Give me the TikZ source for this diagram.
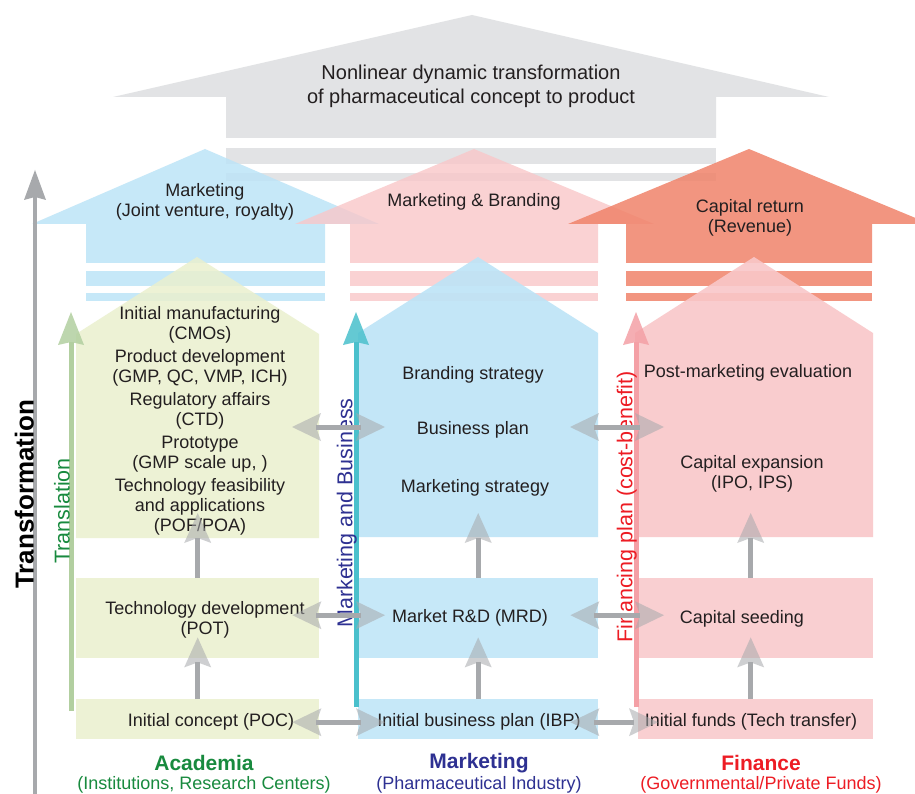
\documentclass[tikz,border=0pt]{standalone}
\usepackage{fontspec}
\setmainfont{Liberation Sans}
\usetikzlibrary{arrows.meta}

\definecolor{topgrey}{RGB}{226,227,229}
\definecolor{skyblue}{RGB}{189,228,247}
\definecolor{rosepink}{RGB}{249,199,201}
\definecolor{salmon}{RGB}{240,131,106}
\definecolor{palegreen}{RGB}{234,240,206}
\definecolor{arrgrey}{RGB}{167,169,172}
\definecolor{transgreen}{RGB}{178,207,160}
\definecolor{tealline}{RGB}{74,192,204}
\definecolor{finpink}{RGB}{244,160,166}
\definecolor{acadgreen}{RGB}{24,138,62}
\definecolor{mktnavy}{RGB}{46,49,146}
\definecolor{finred}{RGB}{237,28,36}
\definecolor{txt}{RGB}{35,31,32}

\tikzset{
  bigtip/.tip={Stealth[length=29pt,width=28pt,inset=5pt,line width=0pt]},
  uptip/.tip={Stealth[length=30pt,width=27pt,inset=5pt,line width=0pt]},
  coltip/.tip={Stealth[length=33pt,width=26pt,inset=3pt,line width=0pt]},
  axtip/.tip={Stealth[length=30pt,width=22pt,inset=3pt,line width=0pt]},
  body/.style={font=\fontsize{18}{20}\selectfont, text=txt, align=center, inner sep=0pt},
  head/.style={font=\fontsize{21}{24}\selectfont\bfseries, text=#1, inner sep=0pt},
  sub/.style={font=\fontsize{18}{20}\selectfont, text=#1, inner sep=0pt},
  side/.style={font=\fontsize{21.5}{24}\selectfont, text=#1, rotate=90, anchor=south, inner sep=1pt},
  rowbox/.style={fill=#1, fill opacity=0.85, draw=none, anchor=north west, inner sep=0pt},
  link/.style={draw=arrgrey, line width=5pt, fill opacity=0.55, arrows={bigtip-bigtip}},
  uplink/.style={draw=arrgrey, line width=5pt, fill opacity=0.55, arrows={-uptip}},
  colarrow/.style={draw=#1, line width=5pt, fill opacity=0.85, arrows={-coltip}}
}

\begin{document}
\begin{tikzpicture}[x=1pt,y=-1pt]
    \useasboundingbox (0,0) rectangle (915,794);
    \fill[white] (0,0) rectangle (915,794);

    \fill[topgrey] (226,138) -- (226,97) -- (113,97) -- (472,15) -- (829,97) -- (716,97) -- (716,138) -- cycle;
    \fill[topgrey] (226,148) rectangle (716,164);
    \fill[topgrey] (226,173) rectangle (716,181);
        \node[body, font=\fontsize{20}{24}\selectfont] (goal) at (471,86) {Nonlinear dynamic transformation\\of pharmaceutical concept to product};

    \fill[skyblue, fill opacity=0.85] (86,263) -- (86,224) -- (32,224) -- (205,149) -- (379,224) -- (325,224) -- (325,263) -- cycle;
    \fill[skyblue, fill opacity=0.85] (86,271) rectangle (325,286);
    \fill[skyblue, fill opacity=0.85] (86,293) rectangle (325,301);
    \fill[rosepink, fill opacity=0.8] (350,263) -- (350,224) -- (295,224) -- (474,149) -- (654,224) -- (598,224) -- (598,263) -- cycle;
    \fill[rosepink, fill opacity=0.8] (350,271) rectangle (598,286);
    \fill[rosepink, fill opacity=0.8] (350,293) rectangle (598,301);
    \fill[salmon, fill opacity=0.85] (626,263) -- (626,224) -- (568,224) -- (749,149) -- (930,224) -- (872,224) -- (872,263) -- cycle;
    \fill[salmon, fill opacity=0.85] (626,271) rectangle (872,286);
    \fill[salmon, fill opacity=0.85] (626,293) rectangle (872,301);
        \node[body] (jv) at (205,202) {Marketing\\(Joint venture, royalty)};
        \node[body] (brand) at (474,202) {Marketing \& Branding};
        \node[body] (capret) at (750,218) {Capital return\\(Revenue)};

    \fill[palegreen, fill opacity=0.85] (76,538) -- (76,334) -- (197,257) -- (319,334) -- (319,538) -- cycle;
    \fill[skyblue, fill opacity=0.9] (358,537) -- (358,333) -- (478,257) -- (598,333) -- (598,537) -- cycle;
    \fill[rosepink, fill opacity=0.9] (635,537) -- (635,333) -- (754,257) -- (873,333) -- (873,537) -- cycle;
    \coordinate (acadR) at (319,427);
    \coordinate (mktL) at (358,427);
    \coordinate (mktR) at (598,427);
    \coordinate (finL) at (635,427);

    \node[rowbox=palegreen, minimum width=243pt, minimum height=80pt] (potbox) at (76,578) {};
    \node[rowbox=skyblue, minimum width=240pt, minimum height=80pt] (mrdbox) at (358,578) {};
    \node[rowbox=rosepink, minimum width=235pt, minimum height=80pt] (seedbox) at (638,578) {};
    \node[rowbox=palegreen, minimum width=243pt, minimum height=40pt] (pocbox) at (76,699) {};
    \node[rowbox=skyblue, minimum width=240pt, minimum height=40pt] (ibpbox) at (358,699) {};
    \node[rowbox=rosepink, minimum width=235pt, minimum height=40pt] (fundbox) at (638,699) {};

    \coordinate (axbot) at (35,794);
    \coordinate (axtop) at (35,170);
    \draw[arrgrey, line width=4pt, arrows={-axtip}] (axbot) -- (axtop);
        \node[side=black, font=\fontsize{26}{28}\selectfont\bfseries, inner sep=0pt] (transf) at (34,494) {Transformation};

    \coordinate (trbot) at (71,711);
    \coordinate (trtop) at (71,312);
    \coordinate (mbbot) at (356,707);
    \coordinate (mbtop) at (356,312);
    \coordinate (fpbot) at (636,707);
    \coordinate (fptop) at (636,312);
    \draw[colarrow=transgreen] (trbot) -- (trtop);
    \draw[colarrow=tealline] (mbbot) -- (mbtop);
    \draw[colarrow=finpink] (fpbot) -- (fptop);
        \node[side=acadgreen] (transl) at (71,511) {Translation};
        \node[side=mktnavy] (mktbus) at (358,513) {Marketing and Business};
        \node[side=finred] (finplan) at (638,507) {Financing plan (cost-benefit)};

        \node[body] (acadtop) at (200,421) {Initial manufacturing\\(CMOs)\\[3pt]
            Product development\\(GMP, QC, VMP, ICH)\\[3pt]
            Regulatory affairs\\(CTD)\\[3pt]
            Prototype\\(GMP scale up, )\\[3pt]
            Technology feasibility\\and applications\\(POF/POA)};
        \node[body] (brandst) at (473,375) {Branding strategy};
        \node[body] (bizplan) at (473,430) {Business plan};
        \node[body] (mktst) at (475,488) {Marketing strategy};
        \node[body] (postm) at (748,373) {Post-marketing evaluation};
        \node[body] (capexp) at (752,474) {Capital expansion\\(IPO, IPS)};

        \node[body] (pot) at (205,620) {Technology development\\(POT)};
        \node[body] (mrd) at (470,618) {Market R\&D (MRD)};
        \node[body] (seed) at (742,619) {Capital seeding};
        \node[body] (poc) at (211,722) {Initial concept (POC)};
        \node[body] (ibp) at (479,722) {Initial business plan (IBP)};
        \node[body] (funds) at (751,722) {Initial funds (Tech transfer)};

    \draw[uplink] (pocbox.north) -- ([yshift=21pt]potbox.south);
    \draw[uplink] (ibpbox.north) -- ([yshift=21pt]mrdbox.south);
    \draw[uplink] ([xshift=-5pt]fundbox.north) -- ([xshift=-5pt,yshift=21pt]seedbox.south);
    \draw[uplink] (potbox.north) -- ++(0,-65);
    \draw[uplink] (mrdbox.north) -- ++(0,-65);
    \draw[uplink] ([xshift=-5pt]seedbox.north) -- ++(0,-65);

    \draw[link] ([xshift=-27pt]acadR) -- ([xshift=27pt]mktL);
    \draw[link] ([xshift=-28pt]mktR) -- ([xshift=29pt]finL);
    \draw[link] ([xshift=-27pt,yshift=3pt]potbox.east) -- ([xshift=27pt,yshift=3pt]mrdbox.west);
    \draw[link] ([xshift=-28pt,yshift=3pt]mrdbox.east) -- ([xshift=26pt,yshift=3pt]seedbox.west);
    \draw[link] ([xshift=-27pt,yshift=-3pt]pocbox.east) -- ([xshift=27pt,yshift=-3pt]ibpbox.west);
    \draw[link] ([xshift=-28pt,yshift=-3pt]ibpbox.east) -- ([xshift=20pt,yshift=-3pt]fundbox.west);

        \node[head=acadgreen] (acad) at (204,763) {Academia};
        \node[sub=acadgreen] (acadsub) at (204,785) {(Institutions, Research Centers)};
        \node[head=mktnavy] (mkt) at (479,763) {Marketing};
        \node[sub=mktnavy] (mktsub) at (479,785) {(Pharmaceutical Industry)};
        \node[head=finred] (fin) at (761,763) {Finance};
        \node[sub=finred] (finsub) at (761,785) {(Governmental/Private Funds)};
\end{tikzpicture}
\end{document}
